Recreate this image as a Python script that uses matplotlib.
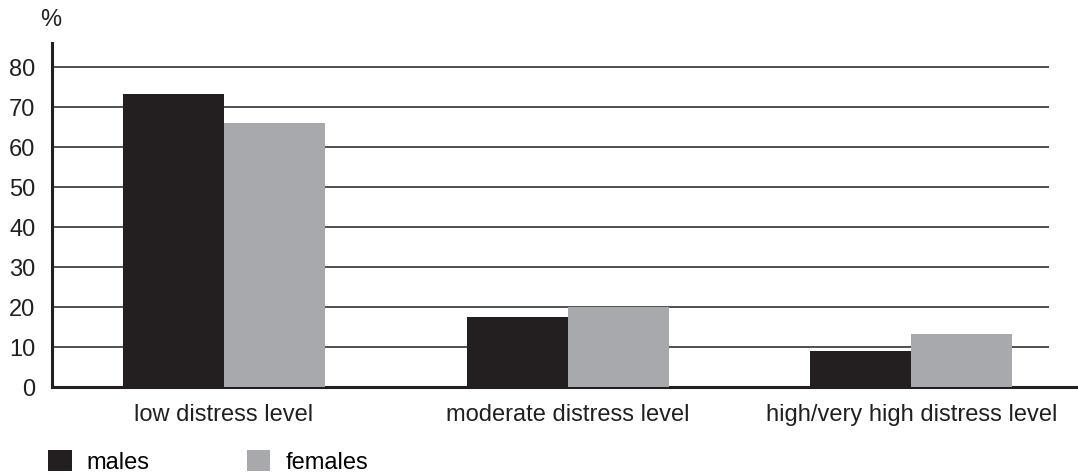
import matplotlib
matplotlib.use("Agg")
import matplotlib.pyplot as plt
import numpy as np

categories = ["low distress level", "moderate distress level", "high/very high distress level"]
series_names = ["males", "females"]
males = [73.2, 17.6, 9.1]
females = [66.1, 20.1, 13.3]
yticks = [0, 10, 20, 30, 40, 50, 60, 70, 80]
colors = ["#231f20", "#a7a9ac"]

plt.rcParams["font.family"] = ["Liberation Sans", "DejaVu Sans"]
FS = 17

fig = plt.figure(figsize=(10.78, 4.75), dpi=100)
ax = fig.add_axes([52 / 1078, 1 - 387.3 / 475, 1 - 52 / 1078, (387.3 - 43) / 475])

x = np.arange(len(categories))
w = 0.294
b1 = ax.bar(x - w / 2, males, w, color=colors[0], label=series_names[0], zorder=3)
b2 = ax.bar(x + w / 2, females, w, color=colors[1], label=series_names[1], zorder=3)

ax.set_xlim(-0.5, 2.485)
ax.set_ylim(0, 86)
ax.hlines(yticks[1:], -0.5, 2.4, color="#231f20", lw=1.1, zorder=1)

ax.set_yticks(yticks)
ax.set_yticklabels([str(t) for t in yticks], fontsize=FS, color="#231f20")
ax.set_xticks(x)
ax.set_xticklabels(categories, fontsize=FS, color="#231f20")
ax.tick_params(axis="y", length=0, pad=12)
ax.tick_params(axis="x", length=0, pad=12)

for s in ["top", "right"]:
    ax.spines[s].set_visible(False)
ax.spines["left"].set_linewidth(2.2)
ax.spines["bottom"].set_linewidth(2.2)
ax.spines["left"].set_color("#231f20")
ax.spines["bottom"].set_color("#231f20")

fig.text(51 / 1078, 1 - 20 / 475, "%", fontsize=FS, ha="center", va="center", color="#231f20")

fig.legend(handles=[b1, b2], labels=series_names, loc="center left",
           bbox_to_anchor=(48 / 1078, 1 - 462 / 475), ncol=2, frameon=False,
           fontsize=FS, handlelength=1.0, handleheight=1.0, handletextpad=0.64,
           columnspacing=4.1, borderpad=0, borderaxespad=0)

fig.savefig("out.png", dpi=100)
